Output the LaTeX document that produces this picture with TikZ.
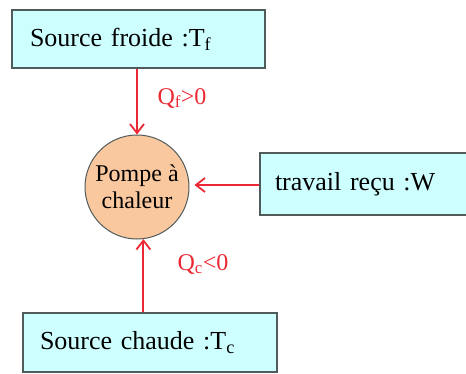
\documentclass[tikz,border=0pt]{standalone}
\usepackage{fontspec}
\setmainfont{Liberation Serif}
\usetikzlibrary{arrows.meta}

\definecolor{bleuclair}{RGB}{206,255,255}
\definecolor{bordgris}{RGB}{80,92,92}
\definecolor{peche}{RGB}{250,200,158}
\definecolor{rougeflec}{RGB}{236,40,52}

\tikzset{
  boite/.style={draw=bordgris,line width=1.6pt,fill=bleuclair,minimum height=58pt,align=left,font=\fontsize{26}{30}\selectfont},
  pompe/.style={circle,draw=bordgris,line width=1pt,fill=peche,minimum size=104pt,inner sep=0pt,align=center,font=\fontsize{24}{27}\selectfont},
  fleche/.style={-{Straight Barb[length=9pt,width=14pt,line width=1.8pt]},draw=rougeflec,line width=2pt},
  etiquette/.style={text=rougeflec,font=\fontsize{24}{28}\selectfont}
}

\begin{document}
\begin{tikzpicture}[x=1pt,y=-1pt]
%cadre de la figure
\useasboundingbox (0,0) rectangle (466,374);

%les trois sources
\node[boite,text width=217pt,inner xsep=18pt] (froide) at (138.5,39) {Source froide :T\textsubscript{f}};
\node[boite,text width=220pt,inner xsep=17pt,minimum height=59pt] (chaude) at (150,342.5) {Source chaude :T\textsubscript{c}};
\node[boite,text width=210pt,inner xsep=15pt,minimum height=62pt] (travail) at (380,184) {travail re\c{c}u :W};

%la pompe a chaleur
\node[pompe] (pac) at (137,187) {Pompe \`a\\chaleur};

%les fleches
\draw[fleche] (froide.south -| pac.north) -- (pac.north);
\draw[fleche] (pac.-83 |- chaude.north) -- (pac.-83);
\draw[fleche] (travail.west |- 0,185) -- ([xshift=5pt]pac.east |- 0,185);

%les chaleurs echangees
\node[etiquette] (qf) at (182,98) {Q\textsubscript{f}>0};
\node[etiquette] (qc) at (203,264) {Q\textsubscript{c}<0};
\end{tikzpicture}
\end{document}
